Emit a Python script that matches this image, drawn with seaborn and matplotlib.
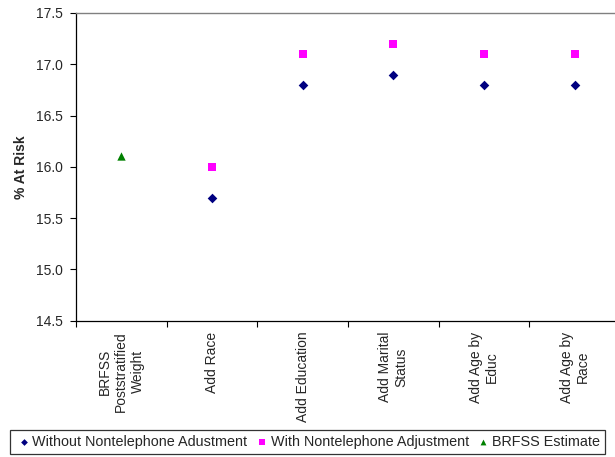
import matplotlib
matplotlib.use("Agg")
import matplotlib.pyplot as plt
import seaborn as sns
import pandas as pd
import numpy as np

categories = ["BRFSS\nPoststratified\nWeight", "Add Race", "Add Education",
              "Add Marital\nStatus", "Add Age by\nEduc", "Add Age by\nRace"]
without_adj = [None, 15.7, 16.8, 16.9, 16.8, 16.8]
with_adj = [None, 16.0, 17.1, 17.2, 17.1, 17.1]
brfss_est = [16.1, None, None, None, None, None]
yticks = [14.5, 15.0, 15.5, 16.0, 16.5, 17.0, 17.5]

sns.set_theme(style="white")
plt.rcParams['font.family'] = ['Liberation Sans', 'DejaVu Sans']

fig = plt.figure(figsize=(6.15, 4.57), dpi=100)
W, H = 615, 457
ax = fig.add_axes([76 / W, 1 - 320.5 / H, (620 - 76) / W, (320.5 - 13) / H])

xpos = np.arange(1, len(categories) + 1)

def frame(vals):
    return pd.DataFrame({"x": xpos, "y": [np.nan if v is None else v for v in vals]}).dropna()

sns.scatterplot(data=frame(without_adj), x="x", y="y", marker="D", s=24, color="#000080",
                edgecolor="#000080", linewidth=0, ax=ax, label="Without Nontelephone Adustment")
sns.scatterplot(data=frame(with_adj), x="x", y="y", marker="s", s=32, color="#FF00FF",
                edgecolor="#FF00FF", linewidth=0, ax=ax, label="With Nontelephone Adjustment")
sns.scatterplot(data=frame(brfss_est), x="x", y="y", marker="^", s=36, color="#008000",
                edgecolor="#008000", linewidth=0, ax=ax, label="BRFSS Estimate")

ax.set_xlim(0.5, len(categories) + 0.5)
ax.set_ylim(yticks[0], yticks[-1])
ax.set_yticks(yticks)
ax.set_yticklabels([f"{v:.1f}" for v in yticks], fontsize=10)
ax.set_xticks(np.arange(0.5, len(categories) + 1, 1.0))
ax.set_xticklabels([])
ax.set_xticks(xpos, minor=True)
ax.set_xticklabels(categories, minor=True, rotation=90, fontsize=10,
                   ha="center", va="top", multialignment="center")
ax.tick_params(axis="x", which="major", direction="out", length=4.5, width=0.8, color="black", bottom=True)
ax.tick_params(axis="x", which="minor", length=0, pad=8, bottom=True)
ax.tick_params(axis="y", direction="out", length=4.5, width=0.8, color="black", pad=5, left=True)
ax.set_xlabel("")
ax.set_ylabel("% At Risk", fontsize=10, fontweight="bold", labelpad=6)

for s in ["left", "bottom"]:
    ax.spines[s].set_color("black")
    ax.spines[s].set_linewidth(0.9)
ax.spines["top"].set_color("#808080")
ax.spines["top"].set_linewidth(1.0)
ax.spines["right"].set_visible(False)

handles, labels = ax.get_legend_handles_labels()
ax.get_legend().remove()
leg = fig.legend(handles, labels, loc="center", ncol=3,
                 bbox_to_anchor=((8 + 607) / 2 / W, 1 - 442 / H),
                 fontsize=10.4, frameon=True, fancybox=False, edgecolor="black",
                 handletextpad=0.0, columnspacing=0.4, borderpad=0.35,
                 markerscale=0.7, handlelength=1.2)
leg.get_frame().set_linewidth(0.9)

fig.savefig("out.png", dpi=100)
